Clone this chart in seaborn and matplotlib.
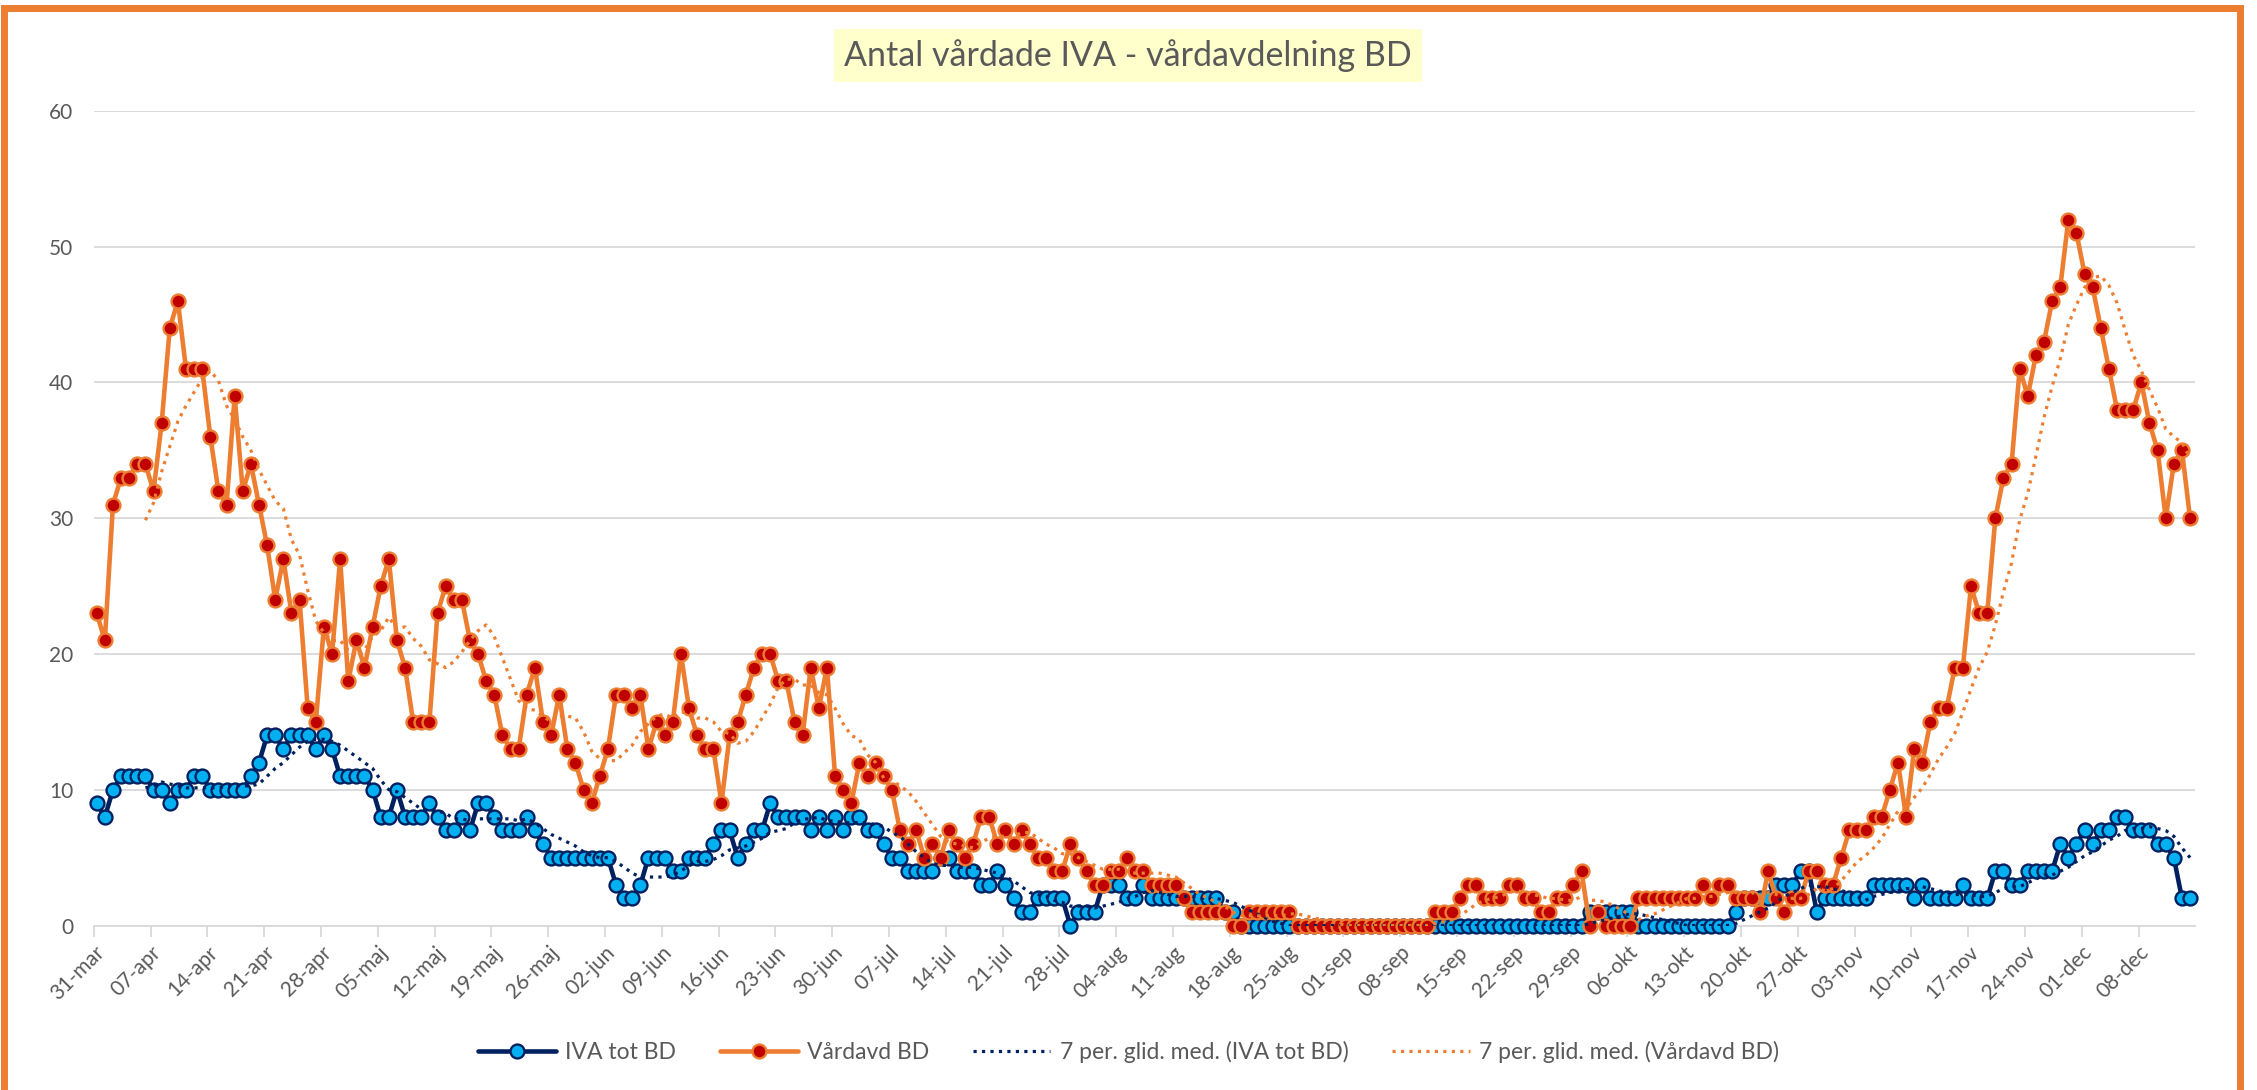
import matplotlib
matplotlib.use("Agg")
import matplotlib.pyplot as plt
from matplotlib.lines import Line2D
from matplotlib.patches import Rectangle
import seaborn as sns
import numpy as np
import pandas as pd

start_date = "2020-03-31"
months_sv = ["jan", "feb", "mar", "apr", "maj", "jun", "jul", "aug", "sep", "okt", "nov", "dec"]

# IVA tot BD, one value per day from 31-mar
iva_tot_bd = [
    9, 8, 10, 11, 11, 11, 11, 10, 10, 9,
    10, 10, 11, 11, 10, 10, 10, 10, 10, 11,
    12, 14, 14, 13, 14, 14, 14, 13, 14, 13,
    11, 11, 11, 11, 10, 8, 8, 10, 8, 8,
    8, 9, 8, 7, 7, 8, 7, 9, 9, 8,
    7, 7, 7, 8, 7, 6, 5, 5, 5, 5,
    5, 5, 5, 5, 3, 2, 2, 3, 5, 5,
    5, 4, 4, 5, 5, 5, 6, 7, 7, 5,
    6, 7, 7, 9, 8, 8, 8, 8, 7, 8,
    7, 8, 7, 8, 8, 7, 7, 6, 5, 5,
    4, 4, 4, 4, 5, 5, 4, 4, 4, 3,
    3, 4, 3, 2, 1, 1, 2, 2, 2, 2,
    0, 1, 1, 1, 3, 3, 3, 2, 2, 3,
    2, 2, 2, 2, 2, 2, 2, 2, 2, 1,
    1, 0, 0, 0, 0, 0, 0, 0, 0, 0,
    0, 0, 0, 0, 0, 0, 0, 0, 0, 0,
    0, 0, 0, 0, 0, 0, 0, 0, 0, 0,
    0, 0, 0, 0, 0, 0, 0, 0, 0, 0,
    0, 0, 0, 0, 1, 1, 1, 1, 1, 1,
    0, 0, 0, 0, 0, 0, 0, 0, 0, 0,
    0, 0, 1, 2, 2, 2, 2, 3, 3, 3,
    4, 4, 1, 2, 2, 2, 2, 2, 2, 3,
    3, 3, 3, 3, 2, 3, 2, 2, 2, 2,
    3, 2, 2, 2, 4, 4, 3, 3, 4, 4,
    4, 4, 6, 5, 6, 7, 6, 7, 7, 8,
    8, 7, 7, 7, 6, 6, 5, 2, 2,
]

# Vårdavd BD
vardavd_bd = [
    23, 21, 31, 33, 33, 34, 34, 32, 37, 44,
    46, 41, 41, 41, 36, 32, 31, 39, 32, 34,
    31, 28, 24, 27, 23, 24, 16, 15, 22, 20,
    27, 18, 21, 19, 22, 25, 27, 21, 19, 15,
    15, 15, 23, 25, 24, 24, 21, 20, 18, 17,
    14, 13, 13, 17, 19, 15, 14, 17, 13, 12,
    10, 9, 11, 13, 17, 17, 16, 17, 13, 15,
    14, 15, 20, 16, 14, 13, 13, 9, 14, 15,
    17, 19, 20, 20, 18, 18, 15, 14, 19, 16,
    19, 11, 10, 9, 12, 11, 12, 11, 10, 7,
    6, 7, 5, 6, 5, 7, 6, 5, 6, 8,
    8, 6, 7, 6, 7, 6, 5, 5, 4, 4,
    6, 5, 4, 3, 3, 4, 4, 5, 4, 4,
    3, 3, 3, 3, 2, 1, 1, 1, 1, 1,
    0, 0, 1, 1, 1, 1, 1, 1, 0, 0,
    0, 0, 0, 0, 0, 0, 0, 0, 0, 0,
    0, 0, 0, 0, 0, 1, 1, 1, 2, 3,
    3, 2, 2, 2, 3, 3, 2, 2, 1, 1,
    2, 2, 3, 4, 0, 1, 0, 0, 0, 0,
    2, 2, 2, 2, 2, 2, 2, 2, 3, 2,
    3, 3, 2, 2, 2, 1, 4, 2, 1, 2,
    2, 4, 4, 3, 3, 5, 7, 7, 7, 8,
    8, 10, 12, 8, 13, 12, 15, 16, 16, 19,
    19, 25, 23, 23, 30, 33, 34, 41, 39, 42,
    43, 46, 47, 52, 51, 48, 47, 44, 41, 38,
    38, 38, 40, 37, 35, 30, 34, 35, 30,
]

navy = "#002060"
light_blue = "#00B0F0"
orange = "#ED7D31"
dark_red = "#C00000"
text_grey = "#595959"
grid_grey = "#D9D9D9"

dates = pd.date_range(start_date, periods=len(vardavd_bd), freq="D")
df = pd.DataFrame({
    "dag": np.arange(len(dates)),
    "iva": iva_tot_bd,
    "vard": vardavd_bd,
})
# Excel "7 per. glid. med." = trailing 7-day moving average
df["iva_ma"] = df["iva"].rolling(7).mean()
df["vard_ma"] = df["vard"].rolling(7).mean()

sns.set_theme(style="white")
plt.rcParams["font.family"] = ["Lato", "DejaVu Sans"]

fig = plt.figure(figsize=(22.57, 10.9), dpi=100)
fig.patch.set_facecolor("white")
ax = fig.add_axes([0.0416, 0.1509, 0.9309, 0.7473])

line_kw = dict(lw=3.3, marker="o", markersize=10, markeredgewidth=1.7, clip_on=False)
sns.lineplot(data=df, x="dag", y="iva", ax=ax, color=navy, markerfacecolor=light_blue,
             markeredgecolor=navy, zorder=3, **line_kw)
sns.lineplot(data=df, x="dag", y="vard", ax=ax, color=orange, markerfacecolor=dark_red,
             markeredgecolor=orange, zorder=4, **line_kw)
ma = df.dropna()
sns.lineplot(data=ma, x="dag", y="iva_ma", ax=ax, color=navy, lw=2.3, ls=":", zorder=5)
sns.lineplot(data=ma, x="dag", y="vard_ma", ax=ax, color=orange, lw=2.3, ls=":", zorder=6)

ax.set_xlim(-0.33, 258.6)
ax.set_ylim(0, 60)
ax.set_yticks(range(0, 61, 10))
ax.yaxis.grid(True, color=grid_grey, lw=1.3)
ax.xaxis.grid(False)
ax.set_xlabel("")
ax.set_ylabel("")

tick_days = np.arange(0, len(dates), 7)
ax.set_xticks(tick_days - 0.35)
ax.set_xticklabels([f"{dates[d].day:02d}-{months_sv[dates[d].month - 1]}" for d in tick_days])
plt.setp(ax.get_xticklabels(), rotation=45, ha="right", rotation_mode="anchor")
ax.tick_params(axis="x", direction="out", length=8, width=1.3, color=grid_grey,
               labelsize=15, labelcolor=text_grey, pad=4, bottom=True)
ax.tick_params(axis="y", length=0, labelsize=15, labelcolor=text_grey, pad=15)

for side in ["left", "right", "top"]:
    ax.spines[side].set_visible(False)
ax.spines["bottom"].set_color(grid_grey)
ax.spines["bottom"].set_linewidth(1.3)

fig.text(0.4996, 0.949, "Antal vårdade IVA - vårdavdelning BD", ha="center", va="center",
         fontsize=24.5, color=text_grey,
         bbox=dict(boxstyle="square,pad=0.3", fc="#FFFFCC", ec="none"))

handles = [
    Line2D([], [], color=navy, lw=3.3, marker="o", markersize=10, markerfacecolor=light_blue,
           markeredgecolor=navy, markeredgewidth=1.7),
    Line2D([], [], color=orange, lw=3.3, marker="o", markersize=10, markerfacecolor=dark_red,
           markeredgecolor=orange, markeredgewidth=1.7),
    Line2D([], [], color=navy, lw=2.3, ls=":"),
    Line2D([], [], color=orange, lw=2.3, ls=":"),
]
labels = ["IVA tot BD", "Vårdavd BD", "7 per. glid. med. (IVA tot BD)", "7 per. glid. med. (Vårdavd BD)"]
fig.legend(handles, labels, loc="center", bbox_to_anchor=(0.5, 0.035), ncol=4, frameon=False,
           fontsize=16.5, handlelength=3.4, handletextpad=0.4, columnspacing=1.9,
           labelcolor=text_grey, numpoints=1)

fig.add_artist(Rectangle((0.0018, -0.02), 0.9907, 1.0127, transform=fig.transFigure,
                         fill=False, edgecolor=orange, lw=5, zorder=10))

fig.savefig("out.png", dpi=100, facecolor="white")
